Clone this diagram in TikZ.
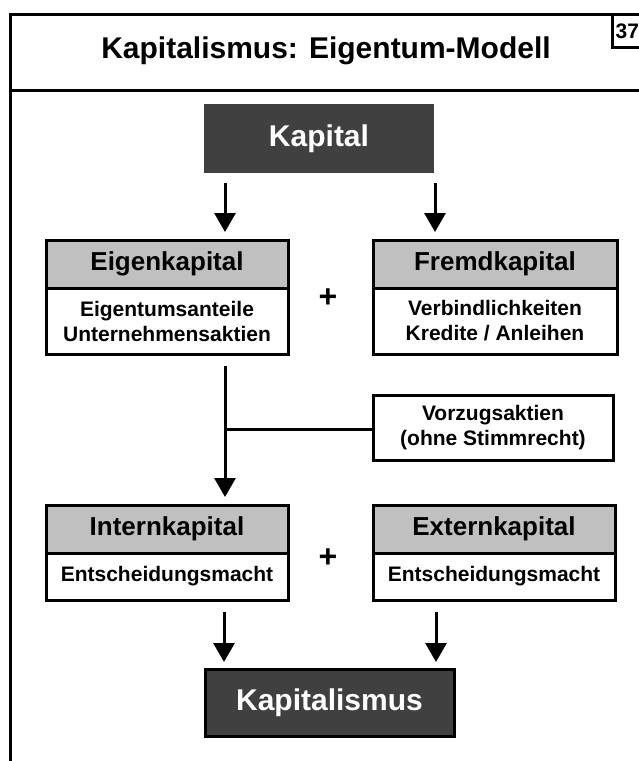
\documentclass[tikz,border=0pt]{standalone}
\usepackage{fontspec}
\setmainfont{Liberation Sans}
\usetikzlibrary{arrows.meta}
\definecolor{darkbox}{HTML}{404040}
\definecolor{lightbox}{HTML}{C0C0C0}
\tikzset{
  frame/.style={line width=3pt, draw=black},
  header/.style={draw=black, line width=3pt, fill=lightbox, minimum width=242pt, minimum height=48pt, inner sep=0pt, font=\fontsize{26}{30}\selectfont\bfseries},
  subbox/.style={draw=black, line width=3pt, fill=white, inner sep=0pt, align=center, font=\fontsize{21}{25}\selectfont\bfseries},
  darkbx/.style={fill=darkbox, text=white, inner sep=0pt, font=\fontsize{30}{34}\selectfont\bfseries},
  arr/.style={line width=3pt, -{Triangle[width=21pt,length=19pt]}},
  conn/.style={line width=3pt},
  plus/.style={font=\fontsize{32}{36}\selectfont\bfseries}
}
\begin{document}
\begin{tikzpicture}[x=1pt,y=-1pt]
\useasboundingbox (0,0) rectangle (639,761);
\clip (0,0) rectangle (639,761);
% outer frame
\draw[frame] (10,770) -- (10,14) -- (650,14);
\draw[frame] (10,90) -- (650,90);
\draw[frame] (650,47) -- (612,47) -- (612,14);
\node[anchor=west, inner sep=0pt, font=\fontsize{21}{25}\selectfont\bfseries] (num) at (615.5,31) {37};
\node[inner sep=0pt, font=\fontsize{30}{34}\selectfont\bfseries] (title) at (326,51) {Kapitalismus: Eigentum-Modell};
% top
\node[darkbx, minimum width=230pt, minimum height=69pt] (kap) at (319,138.5) {Kapital};
% Eigenkapital
\node[header] (eigh) at (167,264) {Eigenkapital};
\node[subbox, minimum width=242pt, minimum height=66pt] (eigs) at (167,321) {Eigentumsanteile\\Unternehmensaktien};
% Fremdkapital
\node[header, minimum width=244pt] (frh) at (495,264) {Fremdkapital};
\node[subbox, minimum width=244pt, minimum height=66pt] (frs) at (495,321) {Verbindlichkeiten\\Kredite / Anleihen};
\node[plus] (plus1) at (328,298) {+};
% Vorzugsaktien
\node[subbox, minimum width=240pt, minimum height=65pt] (vorz) at (493,427.5) {Vorzugsaktien\\(ohne Stimmrecht)};
% Internkapital
\node[header] (inth) at (167,529) {Internkapital};
\node[subbox, minimum width=242pt, minimum height=47pt] (ints) at (167,576.5) {Entscheidungsmacht};
% Externkapital
\node[header] (exth) at (494,529) {Externkapital};
\node[subbox, minimum width=242pt, minimum height=47pt] (exts) at (494,576.5) {Entscheidungsmacht};
\node[plus] (plus2) at (328,558) {+};
% bottom
\node[darkbx, draw=black, line width=3pt, minimum width=249pt, minimum height=67pt] (kism) at (329.5,702.5) {Kapitalismus};
% connectors
\coordinate (a1s) at (225,183);
\coordinate (a1e) at (225,232);
\coordinate (a2s) at (435,183);
\coordinate (a2e) at (435,232);
\draw[arr] (a1s) -- (a1e);
\draw[arr] (a2s) -- (a2e);
\coordinate (vs) at (225,366);
\coordinate (ve) at (225,497);
\coordinate (vj) at (225,429);
\draw[arr] (vs) -- (ve);
\draw[conn] (vj) -- (vj -| vorz.west);
\coordinate (b1s) at (224,612);
\coordinate (b1e) at (224,662);
\coordinate (b2s) at (436,612);
\coordinate (b2e) at (436,662);
\draw[arr] (b1s) -- (b1e);
\draw[arr] (b2s) -- (b2e);
\end{tikzpicture}
\end{document}
